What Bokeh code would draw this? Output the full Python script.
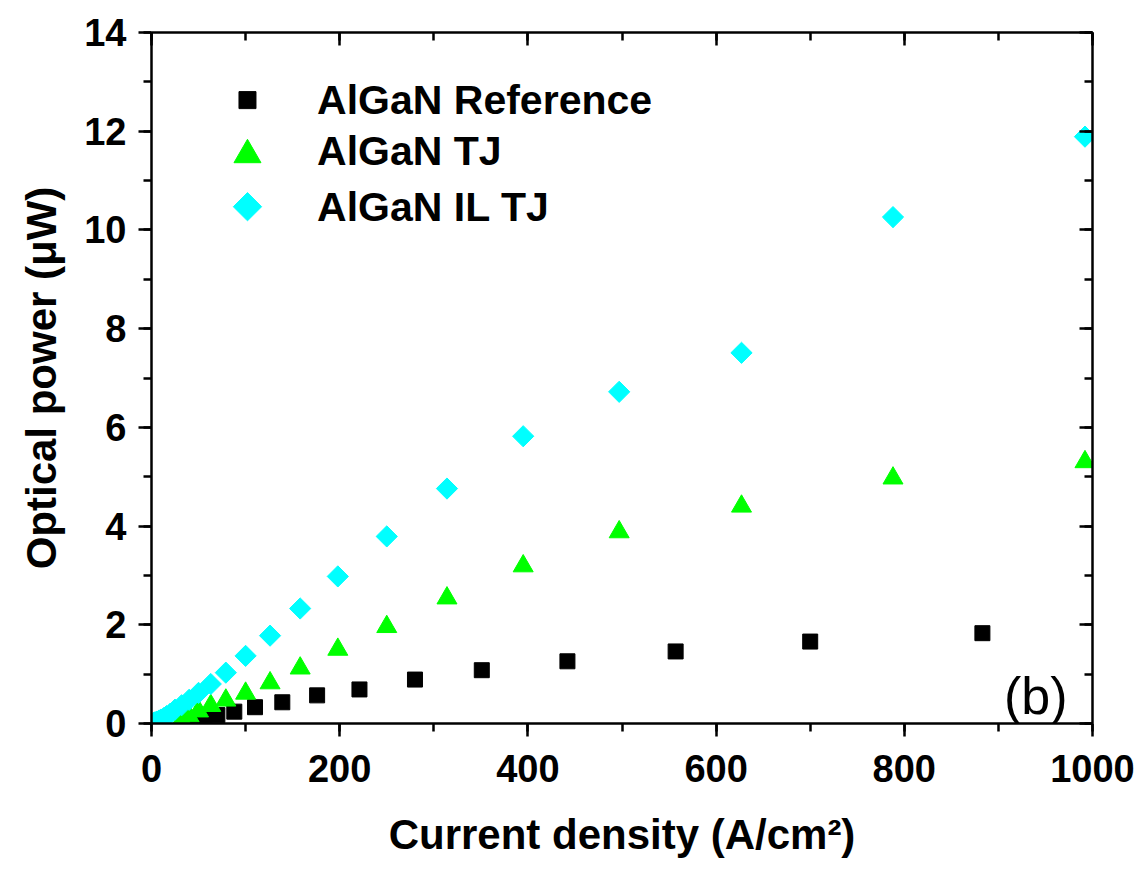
import numpy as np
from bokeh.plotting import figure
from bokeh.models import LinearAxis, Label, SingleIntervalTicker, Range1d
from bokeh.core.properties import value
from bokeh.embed import file_html
from bokeh.resources import INLINE

# ---- data ----
ref_x = [883, 700, 557, 442, 351, 280, 221, 176, 139, 110, 88, 70, 56, 45]
ref_y = [1.83, 1.66, 1.46, 1.26, 1.08, 0.89, 0.69, 0.57, 0.43, 0.33, 0.24, 0.17, 0.10, 0.04]

tj_x = [992, 788, 627, 497, 395, 314, 250, 198, 158, 126, 100, 79, 63, 50, 40, 32]
tj_y = [5.30, 4.97, 4.40, 3.88, 3.19, 2.54, 1.96, 1.50, 1.12, 0.82, 0.61, 0.47, 0.36, 0.25, 0.15, 0.07]

il_x = [992, 788, 627, 497, 395, 314, 250, 198, 158, 126, 100, 79, 63, 50, 40, 32,
        25, 20, 16, 13, 10, 8, 6, 5, 4, 3, 2]
il_y = [11.89, 10.26, 7.51, 6.72, 5.82, 4.76, 3.79, 2.98, 2.33, 1.78, 1.37, 1.03, 0.80,
        0.62, 0.48, 0.37, 0.28, 0.20, 0.15, 0.11, 0.08, 0.06, 0.04, 0.03, 0.02, 0.02, 0.01]

labels = ["AlGaN Reference", "AlGaN TJ", "AlGaN IL TJ"]
x_label = "Current density (A/cm²)"
y_label = "Optical power (μW)"
panel_tag = "(b)"

FONT = "Liberation Sans"
BLACK, GREEN, CYAN = "#000000", "#00FF00", "#00FFFF"

p = figure(width=1137, height=860, output_backend="svg", toolbar_location=None,
           x_range=Range1d(0, 1000), y_range=Range1d(0, 14),
           min_border_left=151, min_border_right=45, min_border_top=32, min_border_bottom=136)
p.outline_line_color = None
p.grid.visible = False
p.background_fill_color = "white"

# data markers
p.scatter(ref_x, ref_y, marker="square", size=15, color=BLACK)
p.scatter(tj_x, tj_y, marker="triangle", size=20, color=GREEN)
p.scatter(il_x, il_y, marker="square", angle=np.pi / 4, size=15, color=CYAN)

# legend (drawn as glyphs so the diamond symbol keeps its rotation)
leg_sym_x = 102
leg_txt_x = 176
leg_y = [12.63, 11.60, 10.47]
p.scatter([leg_sym_x], [leg_y[0]], marker="square", size=17, color=BLACK)
p.scatter([leg_sym_x], [leg_y[1] - 0.08], marker="triangle", size=27, color=GREEN)
p.scatter([leg_sym_x], [leg_y[2]], marker="square", angle=np.pi / 4, size=20, color=CYAN)
p.text(x=[leg_txt_x] * 3, y=leg_y, text=labels, text_font=value(FONT),
       text_font_style="bold", text_font_size="41px", text_baseline="middle",
       text_color=BLACK)

xt = SingleIntervalTicker(interval=200, num_minor_ticks=2)
yt = SingleIntervalTicker(interval=2, num_minor_ticks=2)

def style(ax, outward, show_labels):
    ax.axis_line_width = 2.5
    ax.axis_line_color = BLACK
    ax.major_tick_line_width = 2.5
    ax.minor_tick_line_width = 2.5
    ax.major_tick_line_color = BLACK
    ax.minor_tick_line_color = BLACK
    if outward:
        ax.major_tick_out, ax.major_tick_in = 13, 0
        ax.minor_tick_out, ax.minor_tick_in = 8, 0
    else:
        ax.major_tick_out, ax.major_tick_in = 0, 13
        ax.minor_tick_out, ax.minor_tick_in = 0, 8
    ax.major_label_text_font = FONT
    ax.major_label_text_font_style = "bold"
    ax.major_label_text_font_size = "38px" if show_labels else "0px"
    ax.major_label_text_color = BLACK if show_labels else None
    ax.axis_label_text_font = FONT
    ax.axis_label_text_font_style = "bold"
    ax.axis_label_text_font_size = "42px"
    ax.axis_label_text_color = BLACK

xa = p.xaxis[0]
xa.ticker = xt
style(xa, True, True)
xa.axis_label = x_label
xa.major_label_standoff = 18
xa.axis_label_standoff = 26

ya = p.yaxis[0]
ya.ticker = yt
style(ya, True, True)
ya.axis_label = y_label
ya.major_label_standoff = 12
ya.axis_label_standoff = 16

top = LinearAxis(ticker=SingleIntervalTicker(interval=200, num_minor_ticks=2))
style(top, False, False)
p.add_layout(top, "above")
right = LinearAxis(ticker=SingleIntervalTicker(interval=2, num_minor_ticks=2))
style(right, False, False)
p.add_layout(right, "right")

p.add_layout(Label(x=906, y=0.55, text=panel_tag, text_font=FONT, text_font_size="52px",
                   text_baseline="alphabetic", text_color=BLACK))

open("out.html", "w").write(file_html(p, INLINE))
